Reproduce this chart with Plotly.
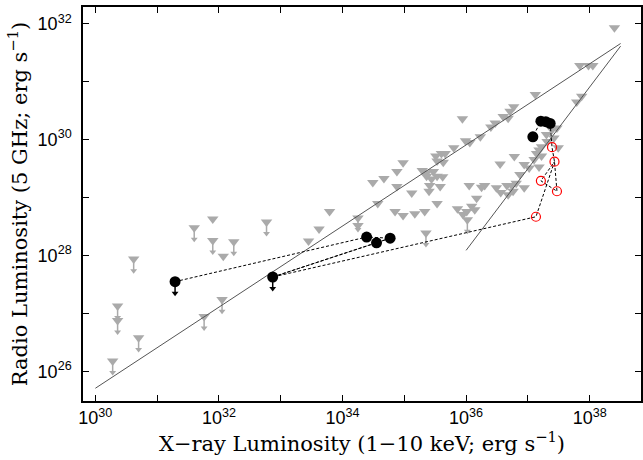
import plotly.graph_objects as go

# ---- data (log10 luminosities) ----
# gray comparison sources: log10 L_X, log10 L_R, upper-limit arrow flag
gray_lx = [30.62, 31.60, 31.90, 31.90, 32.07, 32.24, 32.77, 30.36, 30.36, 30.70, 30.28, 32.05, 31.76,
           33.79, 33.62, 33.45, 34.25, 34.25, 34.49, 34.67, 34.57, 34.88, 34.98, 34.88, 34.85, 34.98,
           35.17, 35.33, 35.12, 35.29, 35.36, 35.47, 35.36, 35.44, 35.53, 35.62, 35.41, 35.58, 35.40,
           35.53, 35.35, 35.86, 35.51, 35.60, 35.66, 35.53, 35.63, 35.80, 35.94, 35.99, 36.06, 36.23,
           36.40, 36.47, 36.60, 36.68, 36.71, 36.77, 37.12, 36.55, 36.78, 36.94, 36.87, 37.02, 36.81,
           36.74, 36.94, 36.76, 36.66, 36.49, 36.56, 36.68, 36.30, 36.25, 36.05, 36.17, 36.09, 36.01,
           36.14, 35.95, 36.02, 37.30, 37.39, 37.47, 37.42, 37.31, 37.22, 37.49, 37.18, 37.14, 37.22,
           37.10, 37.18, 38.40, 37.84, 37.98, 38.05, 37.79, 37.87]
gray_ly = [27.94, 28.48, 28.63, 28.26, 27.99, 28.24, 28.58, 27.13, 26.88, 26.58, 26.18, 27.24, 26.95,
           28.76, 28.46, 28.25, 28.65, 28.52, 29.26, 29.33, 28.90, 29.45, 29.60, 29.19, 28.76, 28.69,
           28.72, 28.76, 29.08, 29.47, 29.43, 29.45, 29.37, 29.32, 29.37, 29.36, 29.21, 29.19, 29.11,
           28.90, 28.39, 28.81, 29.72, 29.76, 29.76, 29.63, 29.61, 29.86, 30.36, 29.98, 29.95, 30.05,
           30.22, 30.29, 30.40, 30.37, 30.49, 30.57, 30.78, 29.58, 29.71, 29.57, 29.40, 29.51, 29.25,
           29.21, 29.17, 29.11, 29.21, 29.17, 29.09, 29.05, 29.21, 29.18, 29.21, 28.99, 28.85, 28.76,
           28.79, 28.71, 28.62, 30.09, 30.17, 30.20, 30.03, 29.97, 29.88, 29.86, 29.82, 29.76, 29.72,
           29.66, 29.53, 31.93, 31.28, 31.28, 31.28, 30.65, 30.75]
gray_lim = [1, 1, 0, 1, 0, 1, 1, 1, 1, 1, 1, 1, 1,
            0, 0, 0, 1, 0, 0, 0, 0, 0, 0, 0, 0, 0,
            0, 0, 0, 0, 0, 0, 0, 0, 0, 0, 0, 0, 0,
            0, 1, 0, 0, 0, 0, 0, 0, 0, 0, 0, 0, 0,
            0, 0, 0, 0, 0, 0, 0, 0, 0, 0, 0, 0, 0,
            0, 0, 0, 0, 0, 0, 0, 0, 0, 0, 0, 0, 0,
            0, 0, 1, 0, 0, 0, 0, 0, 0, 0, 0, 0, 0,
            0, 0, 0, 0, 0, 0, 0, 0]

# target source: black = detections, red = open circles
black_names = ["B1", "B2", "B3", "B4", "B5", "B6", "B7", "B8", "B9"]
black_lx = [31.29, 32.87, 34.39, 34.55, 34.77, 37.08, 37.21, 37.29, 37.36]
black_ly = [27.55, 27.63, 28.32, 28.22, 28.30, 30.05, 30.32, 30.31, 30.28]
black_lim = [1, 1, 0, 0, 0, 0, 0, 0, 0]
red_names = ["R1", "R2", "R3", "R4", "R5"]
red_lx = [37.39, 37.43, 37.21, 37.47, 37.13]
red_ly = [29.87, 29.62, 29.29, 29.11, 28.67]

# dashed connections between successive observations
path_main = ["B1", "B3", "B5", "B4", "B2", "R5", "R2", "R3", "R4", "R2", "R1", "B9", "B8", "B7", "B6"]
path_extra = ["B2", "B5"]

# correlation lines: slope, log L_R at reference log L_X, log L_X range
fit1 = dict(slope=0.70, x0=30.0, y0=25.71, xmin=30.0, xmax=38.5)
fit2 = dict(slope=1.41, x0=36.0, y0=28.09, xmin=36.0, xmax=38.5)

ARROW = 0.2  # arrow length in dex


def p(v):
    return 10.0 ** v


# ---- figure ----
fig = go.Figure()

lim_x = [p(a) for a, f in zip(gray_lx, gray_lim) if f]
lim_y = [p(b) for b, f in zip(gray_ly, gray_lim) if f]
lim_tip = [p(b - ARROW) for b, f in zip(gray_ly, gray_lim) if f]
fig.add_trace(go.Scatter(x=lim_x, y=lim_y, mode="markers", marker=dict(size=0.1, color="#aaaaaa"),
                         error_y=dict(type="data", symmetric=False, array=[0] * len(lim_y),
                                      arrayminus=[y - t for y, t in zip(lim_y, lim_tip)],
                                      color="#aaaaaa", thickness=1.5, width=0),
                         hoverinfo="skip", showlegend=False))
fig.add_trace(go.Scatter(x=lim_x, y=lim_tip, mode="markers",
                         marker=dict(symbol="triangle-down", size=6, color="#aaaaaa"),
                         hoverinfo="skip", showlegend=False))
fig.add_trace(go.Scatter(x=[p(a) for a in gray_lx], y=[p(b) for b in gray_ly], mode="markers",
                         marker=dict(symbol="triangle-down", size=10, color="#aaaaaa", line=dict(width=0)),
                         showlegend=False))

for f in (fit1, fit2):
    xs = [f["xmin"], f["xmax"]]
    ys = [f["y0"] + f["slope"] * (x - f["x0"]) for x in xs]
    fig.add_trace(go.Scatter(x=[p(x) for x in xs], y=[p(y) for y in ys], mode="lines",
                             line=dict(color="#555555", width=1), showlegend=False))

pos = {n: (a, b) for n, a, b in zip(black_names, black_lx, black_ly)}
pos.update({n: (a, b) for n, a, b in zip(red_names, red_lx, red_ly)})
for path in (path_main, path_extra):
    fig.add_trace(go.Scatter(x=[p(pos[n][0]) for n in path], y=[p(pos[n][1]) for n in path],
                             mode="lines", line=dict(color="black", width=1, dash="3px,2px"),
                             showlegend=False))

blim_x = [p(a) for a, f in zip(black_lx, black_lim) if f]
blim_y = [p(b) for b, f in zip(black_ly, black_lim) if f]
blim_tip = [p(b - ARROW) for b, f in zip(black_ly, black_lim) if f]
fig.add_trace(go.Scatter(x=blim_x, y=blim_y, mode="markers", marker=dict(size=0.1, color="black"),
                         error_y=dict(type="data", symmetric=False, array=[0] * len(blim_y),
                                      arrayminus=[y - t for y, t in zip(blim_y, blim_tip)],
                                      color="black", thickness=1.5, width=0),
                         showlegend=False))
fig.add_trace(go.Scatter(x=blim_x, y=blim_tip, mode="markers",
                         marker=dict(symbol="triangle-down", size=6, color="black"), showlegend=False))
fig.add_trace(go.Scatter(x=[p(a) for a in black_lx], y=[p(b) for b in black_ly], mode="markers",
                         marker=dict(symbol="circle", size=11, color="black"), showlegend=False))
fig.add_trace(go.Scatter(x=[p(a) for a in red_lx], y=[p(b) for b in red_ly], mode="markers",
                         marker=dict(symbol="circle-open", size=9, color="red", line=dict(width=1.2)),
                         showlegend=False))

x_dec = list(range(30, 39))
y_dec = list(range(26, 33))
tickfont = dict(family="Liberation Sans, Arial, sans-serif", size=18, color="black")
titlefont = dict(family="DejaVu Serif, serif", size=21, color="black")
axis_common = dict(type="log", ticks="inside", ticklen=6, tickwidth=1, tickcolor="black",
                   showline=True, linecolor="black", linewidth=1.5, mirror="ticks",
                   showgrid=False, zeroline=False, tickfont=tickfont, automargin=False)

fig.update_layout(
    width=643, height=460,
    margin=dict(l=83, r=2, t=7, b=59),
    paper_bgcolor="white", plot_bgcolor="white",
    hovermode=False,
    xaxis=dict(range=[29.8, 38.83],
               tickvals=[p(k) for k in x_dec],
               ticktext=[f"10<sup>{k}</sup>" if k % 2 == 0 else "" for k in x_dec],
               title=dict(text="X\u2212ray Luminosity (1\u221210 keV; erg s<sup>\u22121</sup>)",
                          font=titlefont, standoff=2),
               **axis_common),
    yaxis=dict(range=[25.49, 32.29],
               tickvals=[p(k) for k in y_dec],
               ticktext=[f"10<sup>{k}</sup>" if k % 2 == 0 else "" for k in y_dec],
               title=dict(text="Radio Luminosity (5 GHz; erg s<sup>\u22121</sup>)",
                          font=titlefont, standoff=4),
               ticklabelstandoff=6,
               **axis_common),
)

fig.write_html("out.html", config={"displayModeBar": False},
               post_script="document.body.style.margin='0px';")
